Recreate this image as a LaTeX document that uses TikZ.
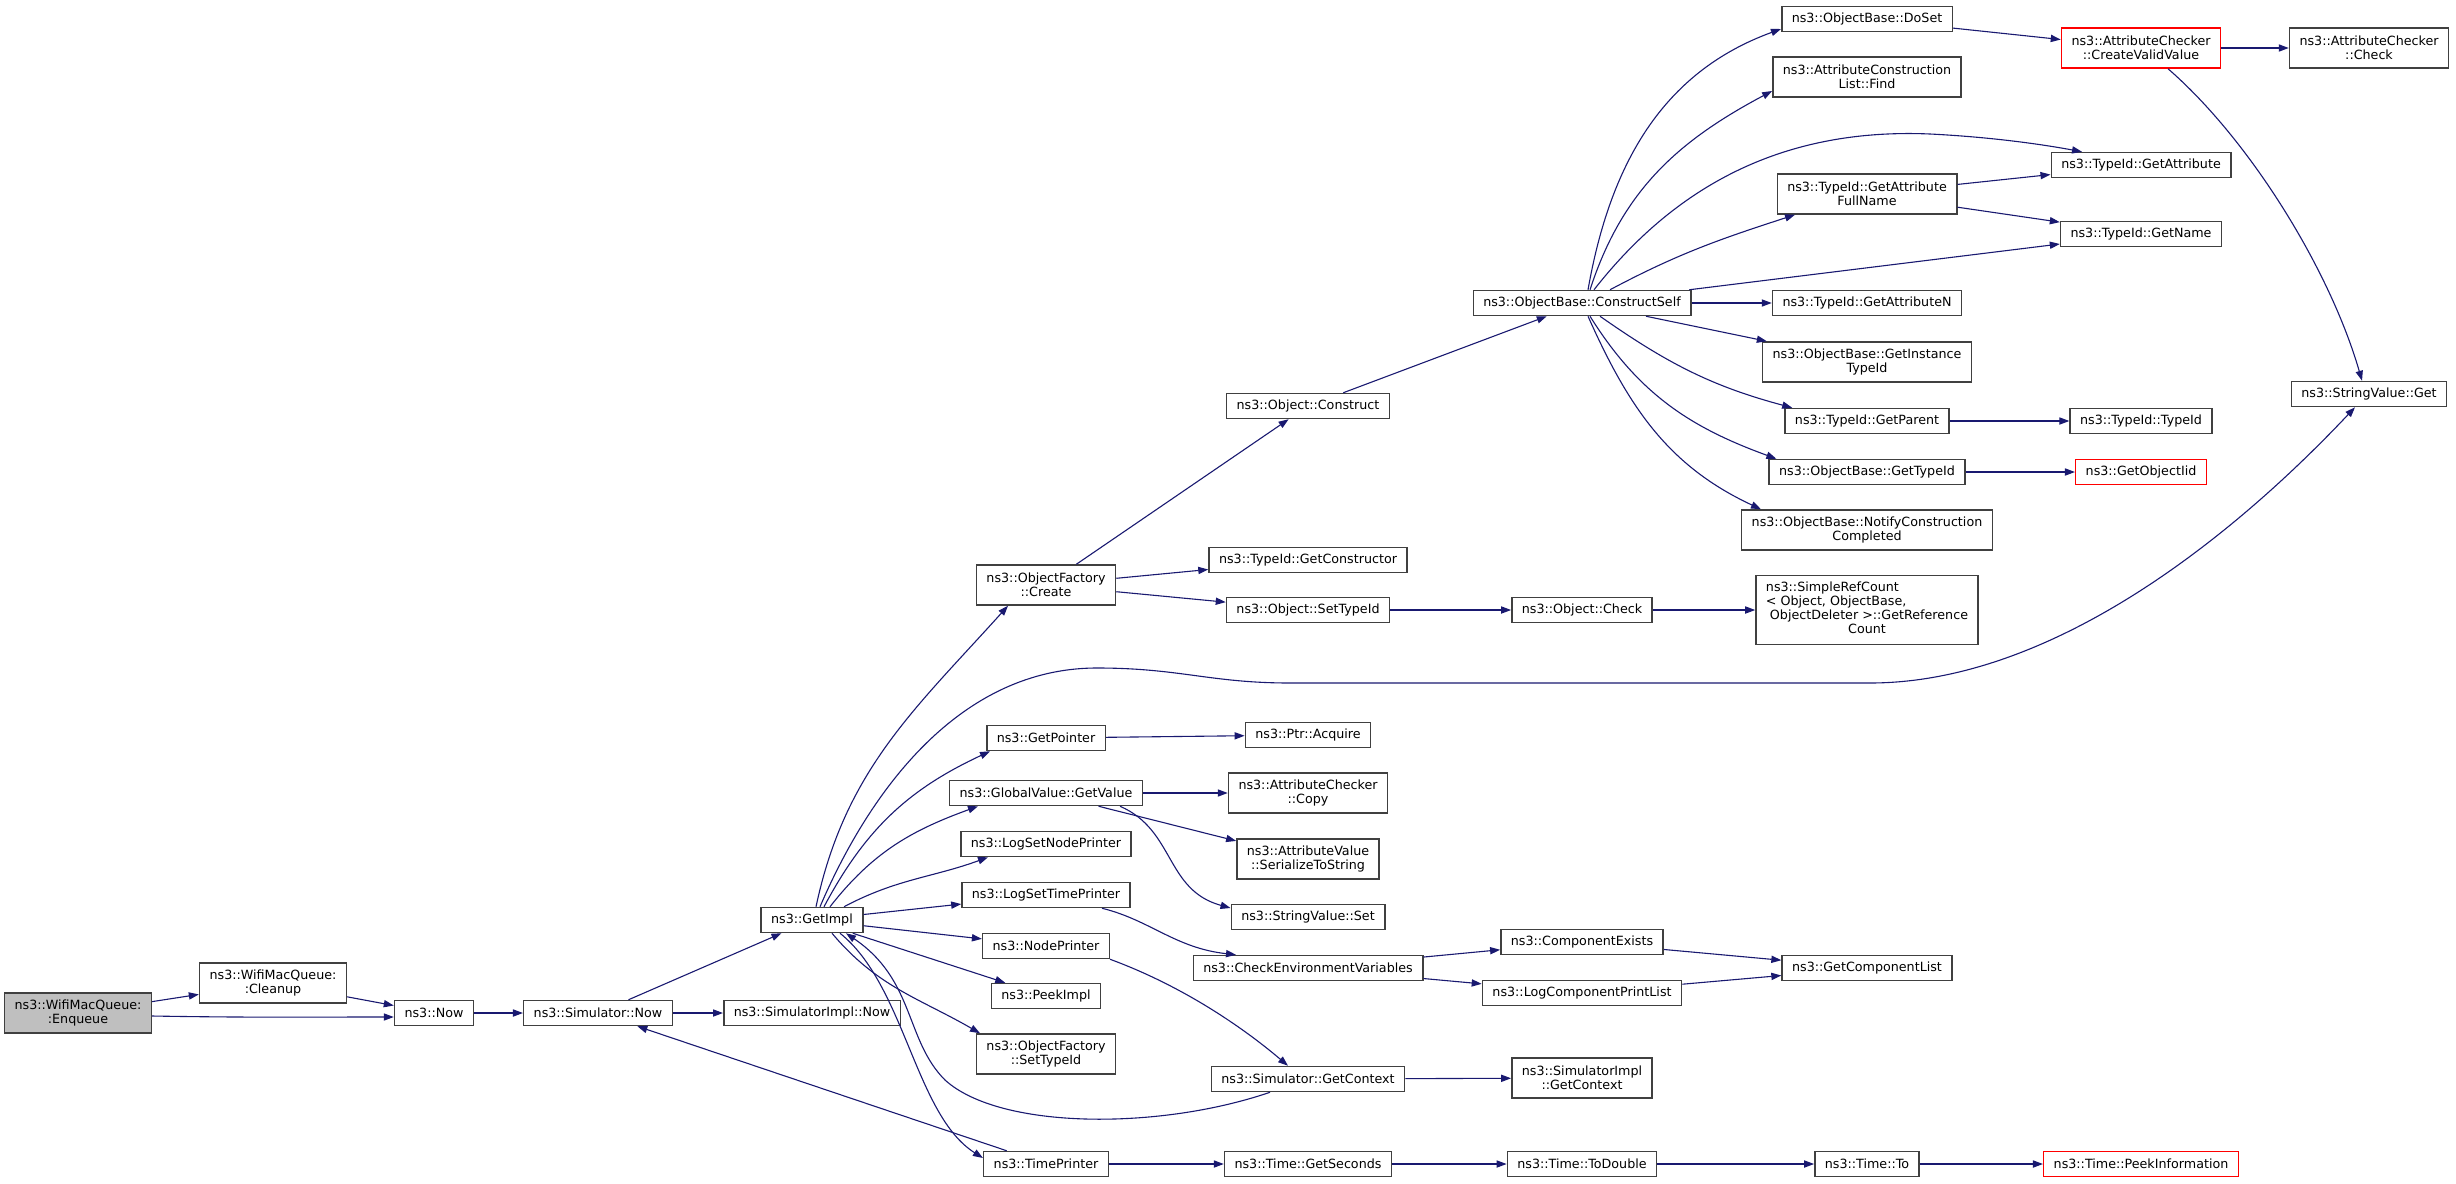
\documentclass[tikz,border=0pt]{standalone}
\usepackage{fontspec}
\setmainfont{DejaVu Sans}
\usetikzlibrary{arrows.meta}
\definecolor{edgeblue}{RGB}{25,25,112}

\begin{document}
\begin{tikzpicture}[x=0.5pt,y=-0.5pt,
		fn/.style={draw=black!75,line width=0.75pt,fill=white,font=\fontsize{6.35}{7}\selectfont,
			align=center,inner xsep=5pt,inner ysep=1.5pt,minimum height=12.5pt},
		two/.style={minimum height=20pt},
		miss/.style={draw=red},
		call/.style={draw=edgeblue,line width=0.55pt,-{Triangle[length=5pt,width=3.6pt]}}]
		\useasboundingbox (0,0) rectangle (2456,1183);
		\node[fn,two,fill=gray!50] (enq) at (78,1013) {ns3::WifiMacQueue:\\:Enqueue};
		\node[fn,two] (cleanup) at (273,983) {ns3::WifiMacQueue:\\:Cleanup};
		\node[fn] (now) at (434,1013) {ns3::Now};
		\node[fn] (simnow) at (598,1013) {ns3::Simulator::Now};
		\node[fn] (getimpl) at (812,920) {ns3::GetImpl};
		\node[fn] (implnow) at (812,1013) {ns3::SimulatorImpl::Now};
		
		\node[fn,two] (create) at (1046,585) {ns3::ObjectFactory\\::Create};
		\node[fn] (getptr) at (1046,738) {ns3::GetPointer};
		\node[fn] (getvalue) at (1046,793) {ns3::GlobalValue::GetValue};
		\node[fn] (lognode) at (1046,844) {ns3::LogSetNodePrinter};
		\node[fn] (logtime) at (1046,895) {ns3::LogSetTimePrinter};
		\node[fn] (nodepr) at (1046,946) {ns3::NodePrinter};
		\node[fn] (peek) at (1046,996) {ns3::PeekImpl};
		\node[fn,two] (ofsettid) at (1046,1054) {ns3::ObjectFactory\\::SetTypeId};
		\node[fn] (timepr) at (1046,1164) {ns3::TimePrinter};
		
		\node[fn] (construct) at (1308,406) {ns3::Object::Construct};
		\node[fn] (getctor) at (1308,560) {ns3::TypeId::GetConstructor};
		\node[fn] (objsettid) at (1308,610) {ns3::Object::SetTypeId};
		\node[fn] (acquire) at (1308,735) {ns3::Ptr::Acquire};
		\node[fn,two] (copy) at (1308,793) {ns3::AttributeChecker\\::Copy};
		\node[fn,two] (serial) at (1308,859) {ns3::AttributeValue\\::SerializeToString};
		\node[fn] (svset) at (1308,917) {ns3::StringValue::Set};
		\node[fn] (checkenv) at (1308,968) {ns3::CheckEnvironmentVariables};
		\node[fn] (getctx) at (1308,1079) {ns3::Simulator::GetContext};
		\node[fn] (getsec) at (1308,1164) {ns3::Time::GetSeconds};
		
		\node[fn] (cself) at (1582,303) {ns3::ObjectBase::ConstructSelf};
		\node[fn] (objcheck) at (1582,610) {ns3::Object::Check};
		\node[fn] (compex) at (1582,942) {ns3::ComponentExists};
		\node[fn] (logcomp) at (1582,993) {ns3::LogComponentPrintList};
		\node[fn,two] (implctx) at (1582,1078) {ns3::SimulatorImpl\\::GetContext};
		\node[fn] (todouble) at (1582,1164) {ns3::Time::ToDouble};
		
		\node[fn] (doset) at (1867,19) {ns3::ObjectBase::DoSet};
		\node[fn,two] (find) at (1867,77) {ns3::AttributeConstruction\\List::Find};
		\node[fn,two] (fullname) at (1867,194) {ns3::TypeId::GetAttribute\\FullName};
		\node[fn] (getattrn) at (1867,303) {ns3::TypeId::GetAttributeN};
		\node[fn,two] (insttid) at (1867,362) {ns3::ObjectBase::GetInstance\\TypeId};
		\node[fn] (parent) at (1867,421) {ns3::TypeId::GetParent};
		\node[fn] (gettid) at (1867,472) {ns3::ObjectBase::GetTypeId};
		\node[fn,two] (notify) at (1867,530) {ns3::ObjectBase::NotifyConstruction\\Completed};
		\node[fn,minimum height=34.5pt] (refcount) at (1867,610) {\begin{tabular}{@{}l@{}}ns3::SimpleRefCount\\
				< Object, ObjectBase,\\
				\hspace{2pt}ObjectDeleter >::GetReference\\
				\multicolumn{1}{@{}c@{}}{Count}\end{tabular}};
		\node[fn] (getcomplist) at (1867,968) {ns3::GetComponentList};
		\node[fn] (timeto) at (1867,1164) {ns3::Time::To};
		
		\node[fn,two,miss] (createvalid) at (2141,48) {ns3::AttributeChecker\\::CreateValidValue};
		\node[fn] (getattr) at (2141,165) {ns3::TypeId::GetAttribute};
		\node[fn] (getname) at (2141,234) {ns3::TypeId::GetName};
		\node[fn] (typeid) at (2141,421) {ns3::TypeId::TypeId};
		\node[fn,miss] (objiid) at (2141,472) {ns3::GetObjectIid};
		\node[fn,miss] (peekinfo) at (2141,1164) {ns3::Time::PeekInformation};
		
		\node[fn,two] (attrcheck) at (2369,48) {ns3::AttributeChecker\\::Check};
		\node[fn] (svget) at (2369,394) {ns3::StringValue::Get};
		
		\draw[call] (enq) -- (cleanup);
		\draw[call] ([yshift=-1.5pt]enq.east) to[out=-1,in=180] ([yshift=-2pt]now.west);
		\draw[call] (cleanup) -- (now);
		\draw[call] (now) -- (simnow);
		\draw[call] (simnow) -- (getimpl);
		\draw[call] (simnow) -- (implnow);
		
		\draw[call] ([xshift=2pt]getimpl.north) to[out=78,in=228] ([xshift=-19pt]create.south);
		\draw[call] ([xshift=4pt]getimpl.north) .. controls (870,790) and (960,668) .. (1097,668)
			.. controls (1180,668) and (1210,683) .. (1290,683) -- (1870,683)
			.. controls (2050,683) and (2230,540) .. ([xshift=-7pt]svget.south);
		\draw[call] ([xshift=6pt]getimpl.north) to[out=62,in=205] ([xshift=-28pt]getptr.south);
		\draw[call] ([xshift=9pt]getimpl.north) to[out=52,in=200] ([xshift=-34pt]getvalue.south);
		\draw[call] ([xshift=16pt]getimpl.north) to[out=28,in=200] ([xshift=-29pt]lognode.south);
		\draw[call] (getimpl) -- (logtime);
		\draw[call] (getimpl) -- (nodepr);
		\draw[call] (getimpl) -- (peek);
		\draw[call] ([xshift=10pt]getimpl.south) to[out=-50,in=150] ([xshift=-33pt]ofsettid.north);
		\draw[call] ([xshift=14pt]getimpl.south) .. controls (905,985) and (915,1115) .. ([yshift=3pt]timepr.west);
		\draw[call] ([xshift=-19pt]getctx.south) .. controls (1160,1130) and (1000,1130) .. (945,1080)
			.. controls (905,1040) and (915,980) .. ([xshift=17pt]getimpl.south);
		\draw[call] (timepr) -- (simnow);
		
		\draw[call] (timepr) -- (getsec);
		\draw[call] (getsec) -- (todouble);
		\draw[call] (todouble) -- (timeto);
		\draw[call] (timeto) -- (peekinfo);
		
		\draw[call] (create) -- (construct);
		\draw[call] (create) -- (getctor);
		\draw[call] (create) -- (objsettid);
		\draw[call] (objsettid) -- (objcheck);
		\draw[call] (objcheck) -- (refcount);
		\draw[call] (construct) -- (cself);
		\draw[call] (getptr) -- (acquire);
		\draw[call] (getvalue) -- (copy);
		\draw[call] (getvalue) -- (serial);
		\draw[call] ([xshift=37pt]getvalue.south) .. controls (1175,830) and (1165,890) .. ([yshift=4.5pt]svset.west);
		\draw[call] ([xshift=28pt]logtime.south) .. controls (1150,920) and (1175,948) .. ([xshift=-36pt]checkenv.north);
		\draw[call] ([xshift=32pt]nodepr.south) .. controls (1180,985) and (1240,1025) .. ([xshift=-10pt]getctx.north);
		\draw[call] (getctx) -- (implctx);
		\draw[call] (checkenv) -- (compex);
		\draw[call] (checkenv) -- (logcomp);
		\draw[call] (compex) -- (getcomplist);
		\draw[call] (logcomp) -- (getcomplist);
		
		\draw[call] ([xshift=3pt]cself.north) to[out=80,in=200] ([yshift=-5pt]doset.west);
		\draw[call] ([xshift=4pt]cself.north) to[out=72,in=208] ([yshift=-7pt]find.west);
		\draw[call] ([xshift=6pt]cself.north) .. controls (1680,180) and (1790,128) .. (1930,134)
			.. controls (1990,137) and (2040,144) .. ([xshift=-29.5pt]getattr.north);
		\draw[call] ([xshift=14pt]cself.north) to[out=28,in=198] ([xshift=-36pt]fullname.south);
		\draw[call] (cself) -- (getname);
		\draw[call] (cself) -- (getattrn);
		\draw[call] (cself) -- (insttid);
		\draw[call] ([xshift=9pt]cself.south) to[out=-35,in=165] ([xshift=4pt]parent.north west);
		\draw[call] ([xshift=4pt]cself.south) to[out=-58,in=160] ([xshift=4pt]gettid.north west);
		\draw[call] ([xshift=3pt]cself.south) to[out=-66,in=155] ([xshift=10pt]notify.north west);
		\draw[call] (fullname) -- (getattr);
		\draw[call] (fullname) -- (getname);
		\draw[call] (doset) -- (createvalid);
		\draw[call] (createvalid) -- (attrcheck);
		\draw[call] ([xshift=13.5pt]createvalid.south) .. controls (2250,140) and (2330,270) .. ([xshift=-3.5pt]svget.north);
		\draw[call] (parent) -- (typeid);
		\draw[call] (gettid) -- (objiid);
	\end{tikzpicture}
\end{document}
